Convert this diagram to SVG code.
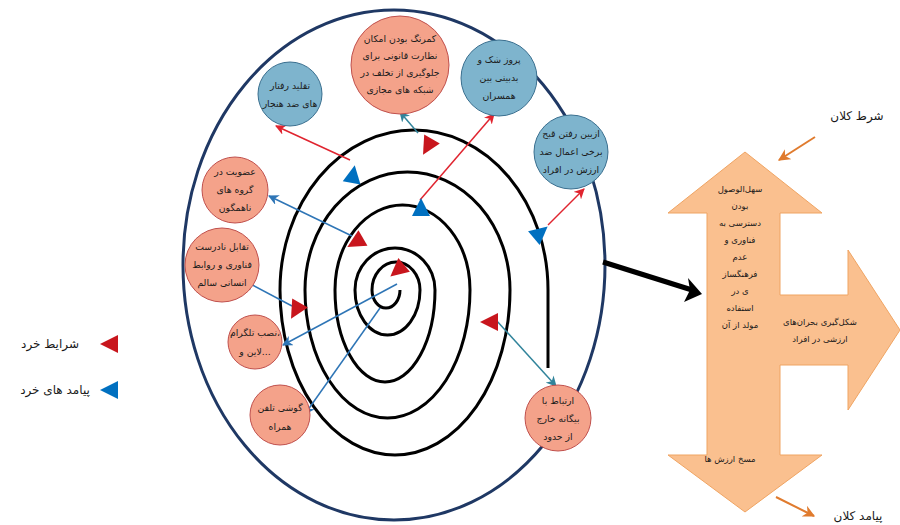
<svg xmlns="http://www.w3.org/2000/svg" width="900" height="525" viewBox="0 0 900 525">
<defs>
<style>
text{font-family:"DejaVu Sans",sans-serif;fill:#1a1a1a;text-anchor:middle}
.t{font-size:9.3px}
.s{font-size:8.5px}
.lg{font-size:12px}
.sal{fill:#F4A28A;stroke:#C0504D;stroke-width:1}
.blu{fill:#7EB4CD;stroke:#3A6F8F;stroke-width:1}
.red{stroke:#E0242F;stroke-width:1.5;fill:none}
.bl{stroke:#2E75B6;stroke-width:1.5;fill:none}
.teal{stroke:#31849B;stroke-width:1.5;fill:none}
.rt{fill:#C8161D}
.bt{fill:#0070C0}
</style>
<marker id="mr" viewBox="0 0 10 10" refX="9" refY="5" markerWidth="7" markerHeight="7" orient="auto"><path d="M0 0 L10 5 L0 10 L3 5 Z" fill="#E0242F"/></marker>
<marker id="mb" viewBox="0 0 10 10" refX="9" refY="5" markerWidth="7" markerHeight="7" orient="auto"><path d="M0 0 L10 5 L0 10 L3 5 Z" fill="#2E75B6"/></marker>
<marker id="mt" viewBox="0 0 10 10" refX="9" refY="5" markerWidth="7" markerHeight="7" orient="auto"><path d="M0 0 L10 5 L0 10 L3 5 Z" fill="#31849B"/></marker>
<marker id="mo" viewBox="0 0 10 10" refX="9" refY="5" markerWidth="6" markerHeight="6" orient="auto"><path d="M0 0 L10 5 L0 10 L3 5 Z" fill="#E07B2E"/></marker>
<path id="tri" d="M -10 0 L 8 -9 L 8 9 Z"/>
</defs>

<g id="frame">
<ellipse cx="394" cy="265" rx="211" ry="255" fill="none" stroke="#1F3864" stroke-width="3"/>
<path d="M 548 368 L 548 290 A 134 160 0 0 0 280 290 A 115 165 0 0 0 510 290 A 102.5 118 0 0 0 305 290 A 82.5 128 0 0 0 470 290 A 67.5 85 0 0 0 335 290 A 50 92 0 0 0 435 290 A 40 42 0 0 0 355 290 A 32.5 45 0 0 0 420 290 A 24 28 0 0 0 372 290 A 14 18 0 0 0 400 290" fill="none" stroke="#000" stroke-width="3"/>
</g>

<g id="connectors">
<line class="red" x1="350" y1="160" x2="276" y2="126" marker-end="url(#mr)"/>
<line class="teal" x1="418" y1="133" x2="400" y2="112" marker-end="url(#mt)"/>
<line class="red" x1="420" y1="200" x2="494" y2="114" marker-end="url(#mr)"/>
<line class="red" x1="548" y1="225" x2="584" y2="189" marker-end="url(#mr)"/>
<line class="bl" x1="352" y1="236" x2="269" y2="196" marker-end="url(#mb)"/>
<line class="bl" x1="292" y1="306" x2="245" y2="281" marker-end="url(#mb)"/>
<line class="bl" x1="397" y1="284" x2="283" y2="345" marker-end="url(#mb)"/>
<line class="bl" x1="380" y1="308" x2="305" y2="414" marker-end="url(#mb)"/>
<line class="teal" x1="496" y1="320" x2="556" y2="386" marker-end="url(#mt)"/>
<path d="M 603 262 L 692 290" stroke="#000" stroke-width="5" fill="none"/>
<path d="M 702 294 L 684 302 L 690 290 L 688 278 Z" fill="#000"/>
<line x1="815" y1="137" x2="779" y2="160" stroke="#E07B2E" stroke-width="2" marker-end="url(#mo)"/>
<line x1="776" y1="497" x2="814" y2="516" stroke="#E07B2E" stroke-width="2" marker-end="url(#mo)"/>
</g>

<g id="triangles">
<use href="#tri" class="rt" transform="translate(428,146) rotate(-60)"/>
<use href="#tri" class="rt" transform="translate(356,242) rotate(-30)"/>
<use href="#tri" class="rt" transform="translate(398,270) rotate(-40)"/>
<use href="#tri" class="rt" transform="translate(296,310) rotate(-60)"/>
<use href="#tri" class="rt" transform="translate(490,322) rotate(0)"/>
<use href="#tri" class="bt" transform="translate(353,175) rotate(100)"/>
<use href="#tri" class="bt" transform="translate(421,208) rotate(90)"/>
<use href="#tri" class="bt" transform="translate(540,233) rotate(140)"/>
</g>

<g id="n-top">
<circle class="sal" cx="400" cy="65" r="49"/>
<text class="t" x="400" y="42">کمرنگ بودن امکان</text>
<text class="t" x="400" y="59">نظارت قانونی برای</text>
<text class="t" x="400" y="76">جلوگیری از تخلف در</text>
<text class="t" x="400" y="93">شبکه های مجازی</text>
</g>
<g id="n-doubt">
<circle class="blu" cx="499" cy="78" r="38"/>
<text class="t" x="499" y="63">پروز شک و</text>
<text class="t" x="499" y="81">بدبینی بین</text>
<text class="t" x="499" y="99">همسران</text>
</g>
<g id="n-ugly">
<circle class="blu" cx="571" cy="152" r="37"/>
<text class="t" x="571" y="137">ازبین رفتن قبح</text>
<text class="t" x="571" y="155">برخی اعمال ضد</text>
<text class="t" x="571" y="173">ارزش در افراد</text>
</g>
<g id="n-imitate">
<circle class="blu" cx="290" cy="94" r="32"/>
<text class="t" x="290" y="89">تقلید رفتار</text>
<text class="t" x="290" y="107">های ضد هنجار</text>
</g>
<g id="n-member">
<circle class="sal" cx="235" cy="190" r="33"/>
<text class="t" x="235" y="175">عضویت در</text>
<text class="t" x="235" y="193">گروه های</text>
<text class="t" x="235" y="211">ناهمگون</text>
</g>
<g id="n-conflict">
<circle class="sal" cx="222" cy="265" r="37"/>
<text class="t" x="222" y="250">تقابل نادرست</text>
<text class="t" x="222" y="268">فناوری و روابط</text>
<text class="t" x="222" y="286">انسانی سالم</text>
</g>
<g id="n-install">
<circle class="sal" cx="255" cy="342" r="27"/>
<text class="t" x="255" y="336">نصب تلگرام،</text>
<text class="t" x="255" y="355" style="direction:ltr;unicode-bidi:embed">لاین و...</text>
</g>
<g id="n-phone">
<circle class="sal" cx="280" cy="415" r="30"/>
<text class="t" x="280" y="411">گوشی تلفن</text>
<text class="t" x="280" y="430">همراه</text>
</g>
<g id="n-foreign">
<circle class="sal" cx="558" cy="418" r="33"/>
<text class="t" x="558" y="404">ارتباط با</text>
<text class="t" x="558" y="422">بیگانه خارج</text>
<text class="t" x="558" y="440">از حدود</text>
</g>

<g id="n-macro">
<path d="M 745 152 L 822 213 L 780 213 L 780 295 L 848 295 L 848 250 L 900 330 L 848 410 L 848 365 L 780 365 L 780 455 L 822 455 L 745 512 L 668 455 L 707 455 L 707 213 L 668 213 Z" fill="#FAC08F" stroke="#EFA463" stroke-width="1"/>
<text class="s" x="740" y="192">سهل‌الوصول</text>
<text class="s" x="740" y="209">بودن</text>
<text class="s" x="740" y="226">دسترسی به</text>
<text class="s" x="740" y="243">فناوری و</text>
<text class="s" x="740" y="260">عدم</text>
<text class="s" x="740" y="277">فرهنگساز</text>
<text class="s" x="740" y="294">ی در</text>
<text class="s" x="740" y="311">استفاده</text>
<text class="s" x="740" y="328">مولد از آن</text>
<text class="s" x="820" y="325">شکل‌گیری بحران‌های</text>
<text class="s" x="820" y="342">ارزشی در افراد</text>
<text class="s" x="730" y="462">مسخ ارزش ها</text>
</g>

<g id="labels">
<text class="lg" x="857" y="120">شرط کلان</text>
<text class="lg" x="858" y="520">پیامد کلان</text>
</g>

<g id="legend">
<use href="#tri" class="rt" transform="translate(110,344)"/>
<text class="lg" x="50" y="348">شرایط خرد</text>
<use href="#tri" class="bt" transform="translate(110,390)"/>
<text class="lg" x="55" y="394">پیامد های خرد</text>
</g>
</svg>
